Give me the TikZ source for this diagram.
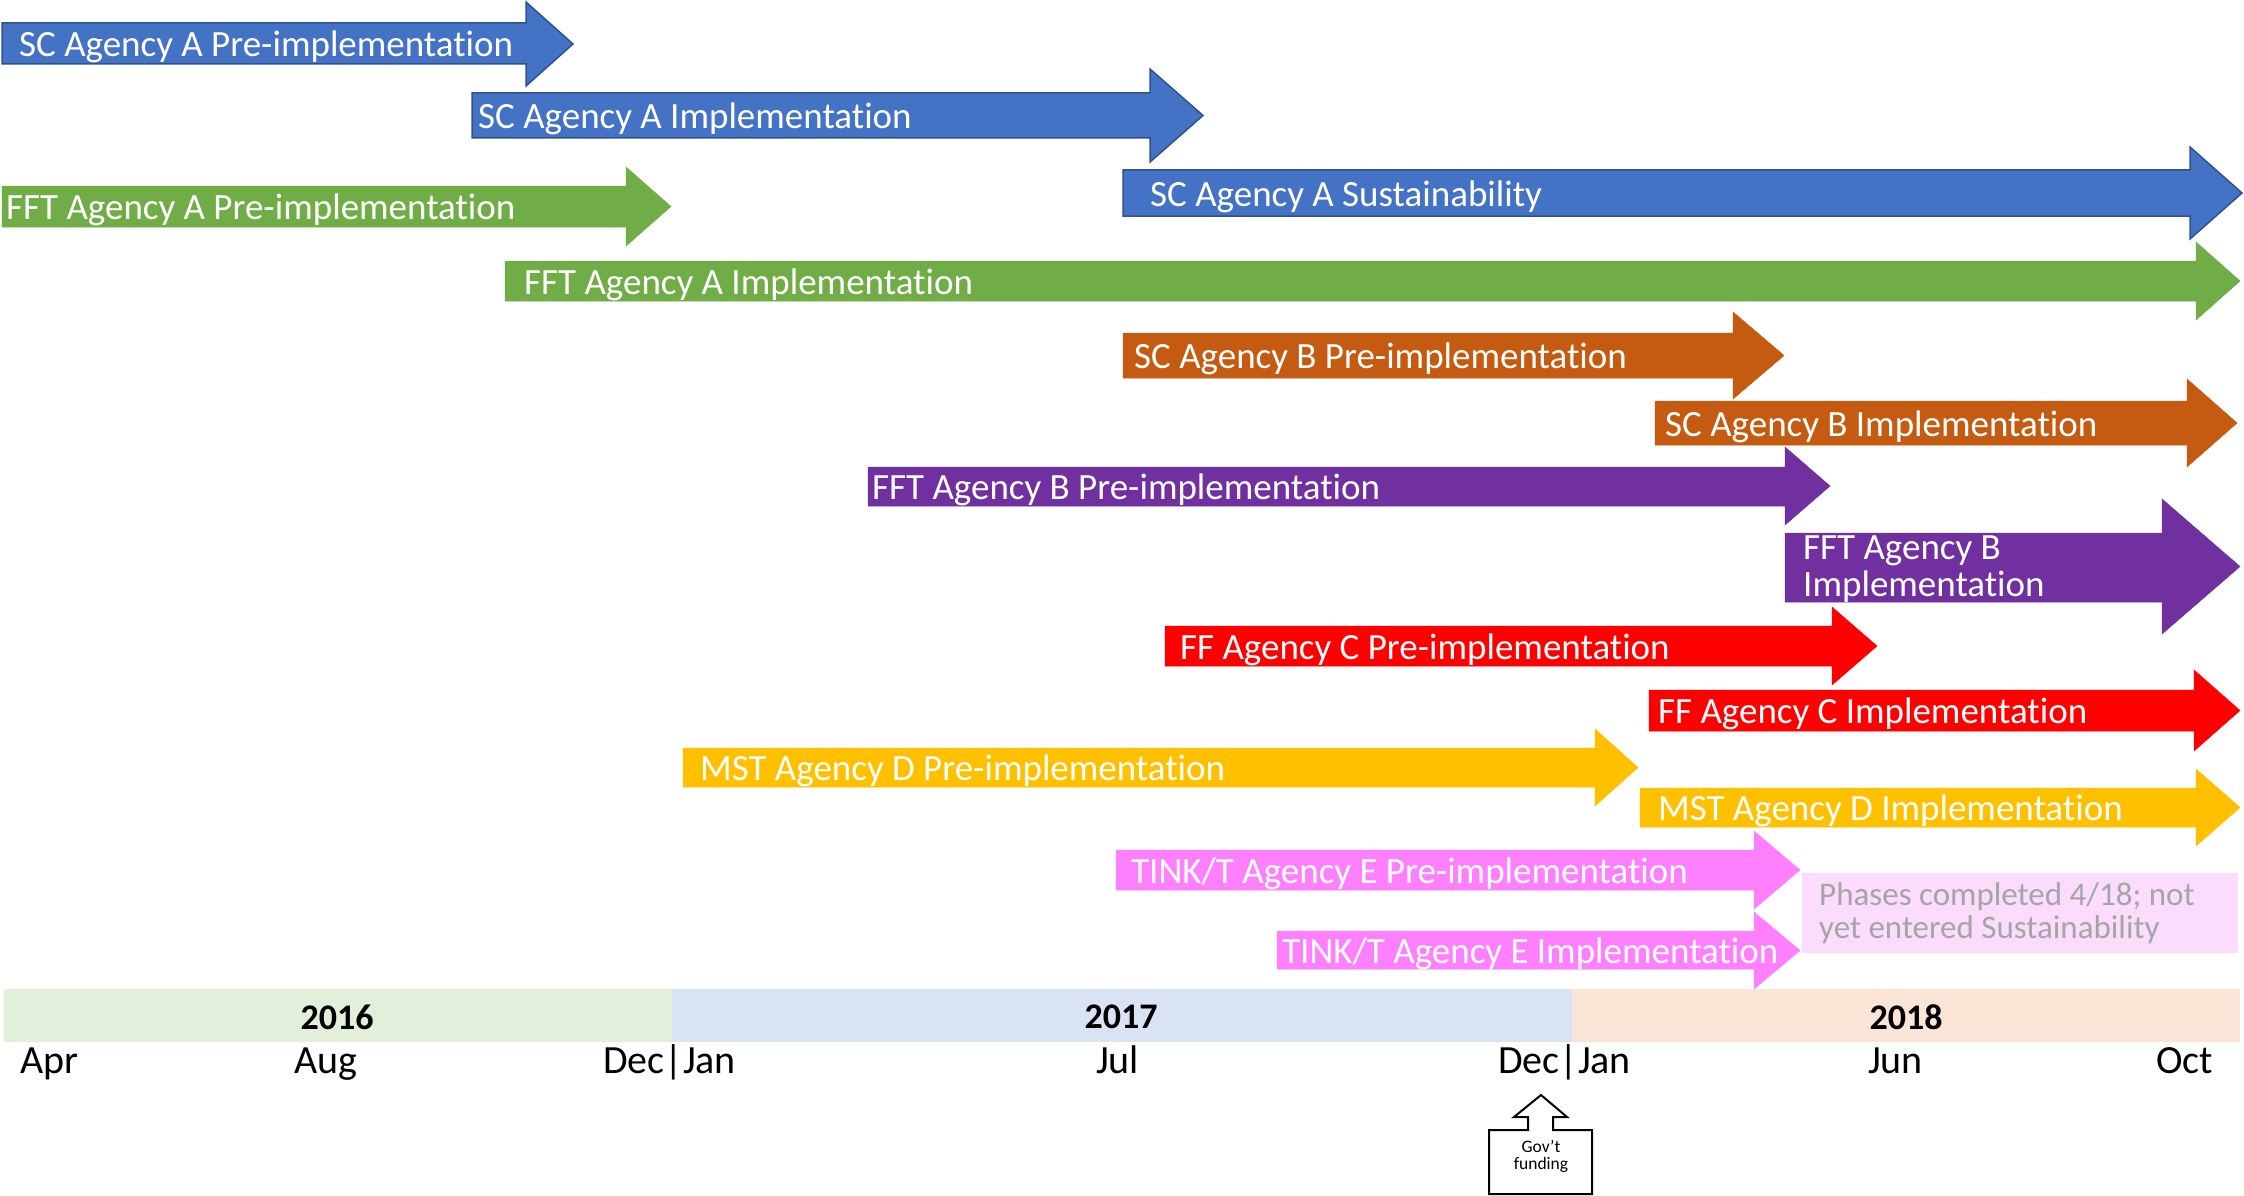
\documentclass[tikz,border=0pt]{standalone}
\usepackage{fontspec}
\setmainfont{Carlito}[Ligatures=NoCommon]
\definecolor{cblue}{HTML}{4472C4}
\definecolor{cblueline}{HTML}{2F528F}
\definecolor{cgreen}{HTML}{70AD47}
\definecolor{corange}{HTML}{C55A11}
\definecolor{cpurple}{HTML}{7030A0}
\definecolor{cred}{HTML}{FF0000}
\definecolor{cgold}{HTML}{FFC000}
\definecolor{cpink}{HTML}{FF80FF}
\definecolor{cnote}{HTML}{FCDCFC}
\definecolor{cnotetext}{HTML}{A5A5A5}
\definecolor{y16}{HTML}{E2EFDA}
\definecolor{y17}{HTML}{DAE3F3}
\definecolor{y18}{HTML}{FBE5D6}
\newcommand{\tlarrow}[8]{%
  \filldraw[#1] (#2,#3) -- (#5,#3) -- (#5,#6) -- (#8,{(#6+#7)/2}) -- (#5,#7) -- (#5,#4) -- (#2,#4) -- cycle;}
\tikzset{
  barlbl/.style={font=\fontsize{37}{37}\selectfont, text=white, inner sep=0pt, anchor=base west, align=left, yshift=-1.5pt},
  monthlbl/.style={font=\fontsize{40}{40}\selectfont, text=black, inner sep=0pt, anchor=base west, yshift=-1.5pt},
  yearlbl/.style={font=\fontsize{36}{36}\selectfont\bfseries, text=black, inner sep=0pt},
  notelbl/.style={font=\fontsize{33}{33}\selectfont, text=cnotetext, inner sep=0pt, anchor=base west, align=left},
  bluebar/.style={fill=cblue, draw=cblueline, line width=1.5pt},
  greenbar/.style={fill=cgreen, draw=cgreen, line width=0.5pt},
  orangebar/.style={fill=corange, draw=corange, line width=0.5pt},
  purplebar/.style={fill=cpurple, draw=cpurple, line width=0.5pt},
  redbar/.style={fill=cred, draw=cred, line width=0.5pt},
  goldbar/.style={fill=cgold, draw=cgold, line width=0.5pt},
  pinkbar/.style={fill=cpink, draw=cpink, line width=0.5pt},
}
\begin{document}
\begin{tikzpicture}[x=1pt,y=-1pt]
\useasboundingbox (0,0) rectangle (2244,1196);
\fill[white] (0,0) rectangle (2244,1196);

% year band
\fill[y16] (4,989) rectangle (672,1042);
\fill[y17] (672,989) rectangle (1572,1042);
\fill[y18] (1572,989) rectangle (2240,1042);
\node[yearlbl] (y2016) at (337,1017) {2016};
\node[yearlbl] (y2017) at (1121,1017) {2017};
\node[yearlbl] (y2018) at (1906,1017) {2018};

% months
\node[monthlbl] (mApr) at (20,1072) {Apr};
\node[monthlbl] (mAug) at (294,1072) {Aug};
\node[monthlbl] (mDJ1) at (603,1072) {Dec|Jan};
\node[monthlbl] (mJul) at (1096,1072) {Jul};
\node[monthlbl] (mDJ2) at (1498,1072) {Dec|Jan};
\node[monthlbl] (mJun) at (1868,1072) {Jun};
\node[monthlbl] (mOct) at (2156,1072) {Oct};

% arrows
\tlarrow{bluebar}{2}{23}{64}{526}{2}{86}{573}
\node[barlbl] (a1) at (19,55) {SC Agency A Pre-implementation};
\tlarrow{bluebar}{472}{93}{138}{1150}{69}{162}{1203}
\node[barlbl] (a2) at (478,127) {SC Agency A Implementation};
\tlarrow{greenbar}{2}{186}{227}{626}{167}{246}{671}
\node[barlbl] (a3) at (6,218) {FFT Agency A Pre-implementation};
\tlarrow{bluebar}{1123}{170}{216}{2190}{147}{239}{2242}
\node[barlbl] (a5) at (1150,204.5) {SC Agency A Sustainability};
\tlarrow{greenbar}{505}{261}{301}{2196}{242}{320}{2240}
\node[barlbl] (a4) at (524,292.5) {FFT Agency A Implementation};
\tlarrow{orangebar}{1655}{401}{445}{2187}{379}{467}{2237}
\tlarrow{orangebar}{1123}{333}{378}{1733}{312}{399}{1784}
\node[barlbl] (a6) at (1134,367) {SC Agency B Pre-implementation};
\node[barlbl] (a7) at (1665,434.5) {SC Agency B Implementation};
\tlarrow{purplebar}{868}{467}{506}{1785}{447}{525}{1830}
\node[barlbl] (a8) at (872,498) {FFT Agency B Pre-implementation};
\tlarrow{purplebar}{1785}{533}{602}{2162}{499}{634}{2240}
\node[barlbl] (a9) at (1803,595) {FFT Agency B\\Implementation};
\tlarrow{redbar}{1165}{626}{666}{1832}{607}{685}{1877}
\node[barlbl] (a10) at (1180,657.5) {FF Agency C Pre-implementation};
\tlarrow{redbar}{1649}{690}{731}{2194}{670}{751}{2240}
\node[barlbl] (a11) at (1658,722) {FF Agency C Implementation};
\tlarrow{goldbar}{1640}{788}{827}{2196}{769}{846}{2240}
\node[barlbl] (a13) at (1658,819) {MST Agency D Implementation};
\tlarrow{goldbar}{683}{748}{787}{1595}{729}{806}{1638}
\node[barlbl] (a12) at (700,779) {MST Agency D Pre-implementation};
\tlarrow{pinkbar}{1116}{850}{890}{1754}{831}{909}{1800}
\node[barlbl] (a14) at (1131,881.5) {TINK/T Agency E Pre-implementation};
\tlarrow{pinkbar}{1277}{931}{969}{1754}{912}{989}{1800}
\node[barlbl] (a15) at (1282,961.5) {TINK/T Agency E Implementation};

% note
\fill[cnote] (1802,873) rectangle (2238,953);
\node[notelbl] (note) at (1819,938) {Phases completed 4/18; not\\yet entered Sustainability};

% gov't funding callout
\draw[black, line width=2pt, line join=miter, fill=white]
  (1489,1130) -- (1528,1130) -- (1528,1117) -- (1514,1117) -- (1541,1095)
  -- (1567,1117) -- (1553,1117) -- (1553,1130) -- (1592,1130) -- (1592,1194)
  -- (1489,1194) -- cycle;
\node[font=\fontsize{17.5}{16.5}\selectfont, align=center, inner sep=0pt, anchor=base] (gov) at (1541,1169) {Gov’t\\funding};
\end{tikzpicture}
\end{document}
